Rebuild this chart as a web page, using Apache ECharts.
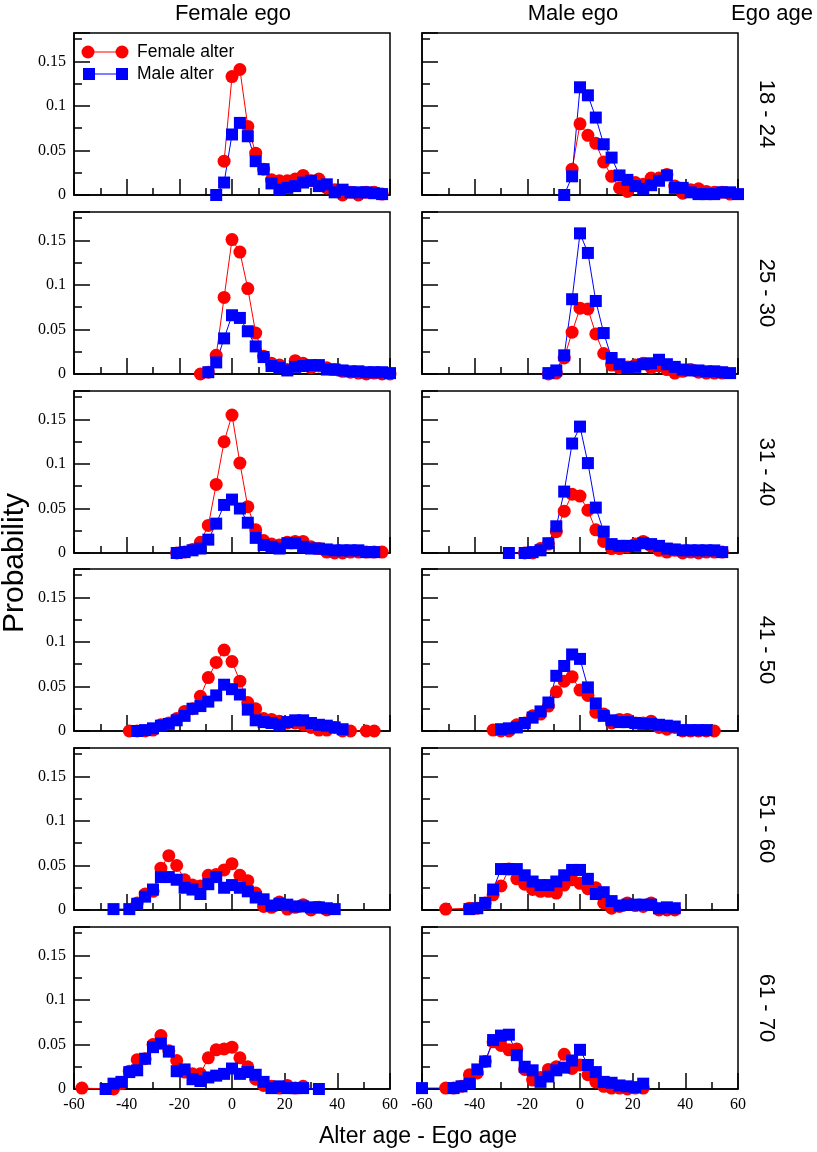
<!DOCTYPE html>
<html><head><meta charset="utf-8">
<script src="https://cdn.jsdelivr.net/npm/echarts@6/dist/echarts.min.js"></script>
<style>html,body{margin:0;padding:0;background:#fff}#c{width:817px;height:1152px}</style>
</head><body><div id="c"></div>
<script>
// ---------- texts ----------
const columnTitles = ['Female ego', 'Male ego'];
const ageGroups = ['18 - 24', '25 - 30', '31 - 40', '41 - 50', '51 - 60', '61 - 70'];
const legendNames = ['Female alter', 'Male alter'];
const yTickLabels = ['0', '0.05', '0.1', '0.15'];
const xTickLabels = ['-60', '-40', '-20', '0', '20', '40', '60'];

// ---------- data: [alter age - ego age, probability] ----------
// Female ego
const fe18_femaleAlter = [[-3,.038],[0,.133],[3,.141],[6,.077],[9,.047],[12,.029],[15,.017],[18,.016],[21,.016],[24,.018],[27,.022],[30,.016],[33,.018],[36,.008],[39,.006],[42,0],[45,.003],[48,0],[51,.003],[54,.003],[57,.001]];
const fe18_maleAlter = [[-6,0],[-3,.014],[0,.068],[3,.081],[6,.066],[9,.038],[12,.029],[15,.013],[18,.006],[21,.008],[24,.010],[27,.014],[30,.016],[33,.010],[36,.012],[39,.003],[42,.006],[45,.003],[48,.003],[51,.003],[54,.002],[57,.001]];
const fe25_femaleAlter = [[-12,0],[-9,.002],[-6,.021],[-3,.086],[0,.151],[3,.137],[6,.096],[9,.046],[12,.020],[15,.012],[18,.010],[21,.005],[24,.015],[27,.012],[30,.007],[33,.009],[36,.007],[39,.005],[42,.003],[45,.002],[48,.001],[51,0],[54,.001],[57,0],[60,0]];
const fe25_maleAlter = [[-9,.002],[-6,.013],[-3,.040],[0,.066],[3,.063],[6,.048],[9,.031],[12,.019],[15,.009],[18,.007],[21,.004],[24,.008],[27,.009],[30,.010],[33,.010],[36,.005],[39,.005],[42,.004],[45,.003],[48,.003],[51,.002],[54,.002],[57,.002],[60,.001]];
const fe31_femaleAlter = [[-21,0],[-18,.001],[-15,.004],[-12,.012],[-9,.031],[-6,.077],[-3,.125],[0,.155],[3,.101],[6,.052],[9,.026],[12,.014],[15,.010],[18,.009],[21,.012],[24,.013],[27,.013],[30,.007],[33,.005],[36,.001],[39,0],[42,0],[45,.001],[48,.001],[51,.001],[54,.001],[57,.001]];
const fe31_maleAlter = [[-21,0],[-18,.001],[-15,.003],[-12,.005],[-9,.015],[-6,.033],[-3,.054],[0,.060],[3,.050],[6,.034],[9,.017],[12,.009],[15,.007],[18,.005],[21,.011],[24,.011],[27,.007],[30,.005],[33,.005],[36,.004],[39,.003],[42,.003],[45,.003],[48,.003],[51,.001],[54,.001]];
const fe41_femaleAlter = [[-39,0],[-36,0],[-33,0],[-30,.001],[-27,.007],[-24,.009],[-21,.014],[-18,.022],[-15,.025],[-12,.039],[-9,.060],[-6,.077],[-3,.091],[0,.078],[3,.056],[6,.032],[9,.025],[12,.014],[15,.013],[18,.011],[21,.009],[24,.009],[27,.007],[30,.004],[33,.001],[36,.001],[39,.004],[42,0],[45,0],[51,0],[54,0]];
const fe41_maleAlter = [[-36,0],[-33,.001],[-30,.003],[-27,.006],[-24,.008],[-21,.012],[-18,.017],[-15,.025],[-12,.028],[-9,.033],[-6,.040],[-3,.052],[0,.047],[3,.041],[6,.024],[9,.012],[12,.010],[15,.009],[18,.007],[21,.010],[24,.012],[27,.012],[30,.009],[33,.007],[36,.006],[39,.004],[42,.002]];
const fe51_femaleAlter = [[-36,.008],[-33,.018],[-30,.021],[-27,.047],[-24,.061],[-21,.050],[-18,.034],[-15,.028],[-12,.027],[-9,.039],[-6,.040],[-3,.045],[0,.052],[3,.039],[6,.033],[9,.019],[12,.004],[15,.003],[18,.009],[21,.001],[24,.003],[27,.006],[30,0],[33,.003],[36,0]];
const fe51_maleAlter = [[-45,.001],[-39,.001],[-36,.007],[-33,.015],[-30,.023],[-27,.037],[-24,.037],[-21,.034],[-18,.025],[-15,.023],[-12,.018],[-9,.029],[-6,.037],[-3,.025],[0,.028],[3,.025],[6,.021],[9,.014],[12,.012],[15,.005],[18,.007],[21,.006],[24,.004],[27,.004],[30,.003],[33,.003],[36,.002],[39,.001]];
const fe61_femaleAlter = [[-57,.001],[-45,0],[-42,.006],[-39,.020],[-36,.033],[-33,.034],[-30,.050],[-27,.060],[-24,.043],[-21,.032],[-18,.019],[-15,.017],[-12,.017],[-9,.035],[-6,.044],[-3,.045],[0,.047],[3,.035],[6,.025],[9,.011],[12,.004],[15,.003],[18,.001],[21,.004],[24,.001],[27,.003]];
const fe61_maleAlter = [[-48,0],[-45,.006],[-42,.008],[-39,.019],[-36,.021],[-33,.034],[-30,.047],[-27,.051],[-24,.042],[-21,.020],[-18,.022],[-15,.011],[-12,.009],[-9,.013],[-6,.015],[-3,.017],[0,.023],[3,.017],[6,.019],[9,.016],[12,.008],[15,.001],[18,.003],[21,.001],[24,.001],[27,.001],[33,0]];
// Male ego
const me18_femaleAlter = [[-3,.029],[0,.080],[3,.067],[6,.058],[9,.037],[12,.021],[15,.008],[18,.004],[21,.014],[24,.012],[27,.019],[30,.019],[33,.023],[36,.010],[39,.002],[42,.006],[45,.007],[48,.004],[51,.003],[54,.003],[57,.001]];
const me18_maleAlter = [[-6,0],[-3,.021],[0,.121],[3,.112],[6,.087],[9,.057],[12,.042],[15,.022],[18,.017],[21,.010],[24,.007],[27,.011],[30,.016],[33,.022],[36,.008],[39,.008],[42,.003],[45,.001],[48,.001],[51,.001],[54,.003],[57,.003],[60,.001]];
const me25_femaleAlter = [[-12,0],[-9,.001],[-6,.018],[-3,.047],[0,.074],[3,.073],[6,.045],[9,.023],[12,.010],[15,.007],[18,.008],[21,.010],[24,.012],[27,.007],[30,.009],[33,.005],[36,.001],[39,.003],[42,.005],[45,.002],[48,.001],[51,.001],[54,.001]];
const me25_maleAlter = [[-12,.001],[-9,.004],[-6,.021],[-3,.084],[0,.158],[3,.136],[6,.082],[9,.046],[12,.018],[15,.011],[18,.007],[21,.008],[24,.011],[27,.012],[30,.016],[33,.011],[36,.008],[39,.005],[42,.004],[45,.004],[48,.003],[51,.003],[54,.002],[57,.001]];
const me31_femaleAlter = [[-21,0],[-18,0],[-15,.005],[-12,.010],[-9,.024],[-6,.047],[-3,.066],[0,.064],[3,.048],[6,.026],[9,.013],[12,.005],[15,.005],[18,.007],[21,.010],[24,.013],[27,.008],[30,.003],[33,.001],[36,.003],[39,0],[42,.001],[45,0],[48,.001],[51,.001],[54,.001]];
const me31_maleAlter = [[-27,0],[-21,0],[-18,.001],[-15,.003],[-12,.011],[-9,.030],[-6,.069],[-3,.123],[0,.142],[3,.101],[6,.051],[9,.024],[12,.010],[15,.008],[18,.008],[21,.008],[24,.011],[27,.010],[30,.008],[33,.005],[36,.004],[39,.003],[42,.003],[45,.003],[48,.003],[51,.003],[54,.001]];
const me41_femaleAlter = [[-33,.001],[-30,0],[-27,0],[-24,.007],[-21,.009],[-18,.017],[-15,.019],[-12,.028],[-9,.044],[-6,.056],[-3,.061],[0,.046],[3,.040],[6,.021],[9,.019],[12,.009],[15,.013],[18,.013],[21,.009],[24,.009],[27,.011],[30,.004],[33,.002],[36,.004],[39,0],[42,0],[45,0],[48,0],[51,0]];
const me41_maleAlter = [[-30,.002],[-27,.003],[-24,.004],[-21,.009],[-18,.015],[-15,.022],[-12,.032],[-9,.062],[-6,.073],[-3,.086],[0,.081],[3,.049],[6,.031],[9,.017],[12,.012],[15,.010],[18,.010],[21,.009],[24,.008],[27,.008],[30,.007],[33,.006],[36,.005],[39,.001],[42,.001],[45,.001],[48,.001]];
const me51_femaleAlter = [[-51,.001],[-42,.002],[-39,.002],[-36,.008],[-33,.017],[-30,.027],[-27,.046],[-24,.035],[-21,.029],[-18,.023],[-15,.021],[-12,.021],[-9,.019],[-6,.028],[-3,.034],[0,.030],[3,.024],[6,.025],[9,.008],[12,.002],[15,.004],[18,.008],[21,.005],[24,.004],[27,.008],[30,0],[33,0],[36,0]];
const me51_maleAlter = [[-42,.001],[-39,.002],[-36,.008],[-33,.023],[-30,.046],[-27,.046],[-24,.046],[-21,.039],[-18,.032],[-15,.028],[-12,.028],[-9,.032],[-6,.039],[-3,.045],[0,.045],[3,.035],[6,.018],[9,.020],[12,.010],[15,.005],[18,.006],[21,.006],[24,.006],[27,.006],[30,.002],[33,.003],[36,.002]];
const me61_femaleAlter = [[-51,.001],[-48,.001],[-45,.003],[-42,.016],[-39,.018],[-36,.031],[-33,.053],[-30,.049],[-27,.044],[-24,.045],[-21,.022],[-18,.010],[-15,.013],[-12,.022],[-9,.025],[-6,.039],[-3,.023],[0,.027],[3,.016],[6,.008],[9,.003],[12,.001],[15,.001],[18,0],[21,.001],[24,.001]];
const me61_maleAlter = [[-60,.001],[-48,.001],[-45,.003],[-42,.006],[-39,.022],[-36,.031],[-33,.055],[-30,.060],[-27,.061],[-24,.038],[-21,.025],[-18,.021],[-15,.008],[-12,.014],[-9,.021],[-6,.024],[-3,.032],[0,.044],[3,.027],[6,.019],[9,.008],[12,.007],[15,.004],[18,.003],[21,.002],[24,.006]];

// panels[row][col] = [femaleAlter, maleAlter]
const panels = [
  [[fe18_femaleAlter, fe18_maleAlter], [me18_femaleAlter, me18_maleAlter]],
  [[fe25_femaleAlter, fe25_maleAlter], [me25_femaleAlter, me25_maleAlter]],
  [[fe31_femaleAlter, fe31_maleAlter], [me31_femaleAlter, me31_maleAlter]],
  [[fe41_femaleAlter, fe41_maleAlter], [me41_femaleAlter, me41_maleAlter]],
  [[fe51_femaleAlter, fe51_maleAlter], [me51_femaleAlter, me51_maleAlter]],
  [[fe61_femaleAlter, fe61_maleAlter], [me61_femaleAlter, me61_maleAlter]]
];

// ---------- layout ----------
const colLeft = [74, 422];
const panelW = 316;
const rowTop = [33, 212, 391, 569, 748, 927];
const panelH = 162;
const Y_MAX = 0.182;
const RED = '#ff0000', BLUE = '#0000ff', INK = '#000';
const SANS = 'Liberation Sans, Arial, sans-serif';
const SERIF = 'Liberation Serif, Times New Roman, serif';
const axisLs = { color: INK, width: 1.5 };

const grid = [], xAxis = [], yAxis = [], series = [];
let gi = 0;
for (let r = 0; r < 6; r++) {
  for (let c = 0; c < 2; c++) {
    grid.push({ left: colLeft[c], top: rowTop[r], width: panelW, height: panelH,
      show: true, borderColor: INK, borderWidth: 1.5, backgroundColor: 'transparent' });
    xAxis.push({ type: 'value', gridIndex: gi, position: 'bottom', min: -60, max: 60, interval: 20,
      axisLine: { show: true, onZero: false, lineStyle: axisLs },
      axisTick: { show: true, inside: true, length: 16, lineStyle: axisLs },
      minorTick: { show: true, splitNumber: 2, length: 7, lineStyle: axisLs },
      splitLine: { show: false }, minorSplitLine: { show: false },
      axisLabel: { show: r === 5, color: INK, fontFamily: SERIF, fontSize: 16, margin: 8,
        showMinLabel: true, showMaxLabel: true,
        formatter: v => { const s = String(Math.round(v)); return xTickLabels.includes(s) ? s : ''; } }
    });
    // major ticks + labels
    yAxis.push({ type: 'value', gridIndex: gi, position: 'left', min: 0, max: Y_MAX, interval: 0.05,
      axisLine: { show: true, onZero: false, lineStyle: axisLs },
      axisTick: { show: true, inside: true, length: 16, lineStyle: axisLs },
      splitLine: { show: false },
      axisLabel: { show: c === 0, color: INK, fontFamily: SERIF, fontSize: 16, margin: 8,
        formatter: v => { const s = String(Math.round(v * 1000) / 1000); return yTickLabels.includes(s) ? s : ''; } }
    });
    // minor ticks
    yAxis.push({ type: 'value', gridIndex: gi, position: 'left', min: 0, max: Y_MAX, interval: 0.025,
      axisLine: { show: false, onZero: false }, axisLabel: { show: false }, splitLine: { show: false },
      axisTick: { show: true, inside: true, length: 8, lineStyle: axisLs }
    });
    const [fa, ma] = panels[r][c];
    series.push({ type: 'line', name: legendNames[0], xAxisIndex: gi, yAxisIndex: 2 * gi, data: fa,
      symbol: 'circle', symbolSize: 13, clip: false, itemStyle: { color: RED },
      lineStyle: { color: RED, width: 1 }, emphasis: { disabled: true } });
    series.push({ type: 'line', name: legendNames[1], xAxisIndex: gi, yAxisIndex: 2 * gi, data: ma,
      symbol: 'rect', symbolSize: 12, clip: false, itemStyle: { color: BLUE },
      lineStyle: { color: BLUE, width: 1 }, emphasis: { disabled: true } });
    gi++;
  }
}

const graphic = [];
const txt = (text, x, y, size, rot, align) => ({ type: 'text', x, y, rotation: rot || 0, silent: true,
  style: { text, fill: INK, font: size + 'px ' + SANS, align: align || 'center', verticalAlign: 'middle' } });
graphic.push(txt(columnTitles[0], 233, 14, 22));
graphic.push(txt(columnTitles[1], 573, 14, 22));
graphic.push(txt('Ego age', 772, 14, 22));
ageGroups.forEach((g, r) => graphic.push(txt(g, 766, rowTop[r] + panelH / 2, 22, -Math.PI / 2)));
graphic.push(txt('Probability', 15, 563, 30, Math.PI / 2));
graphic.push(txt('Alter age - Ego age', 418, 1137, 23));
// legend
graphic.push({ type: 'line', shape: { x1: 88, y1: 52, x2: 122, y2: 52 }, style: { stroke: RED, lineWidth: 1 } });
graphic.push({ type: 'circle', shape: { cx: 88, cy: 52, r: 6.5 }, style: { fill: RED } });
graphic.push({ type: 'circle', shape: { cx: 122, cy: 52, r: 6.5 }, style: { fill: RED } });
graphic.push(txt(legendNames[0], 137, 52, 17.5, 0, 'left'));
graphic.push({ type: 'line', shape: { x1: 89, y1: 74, x2: 122, y2: 74 }, style: { stroke: BLUE, lineWidth: 1 } });
graphic.push({ type: 'rect', shape: { x: 83, y: 68, width: 12, height: 12 }, style: { fill: BLUE } });
graphic.push({ type: 'rect', shape: { x: 116, y: 68, width: 12, height: 12 }, style: { fill: BLUE } });
graphic.push(txt(legendNames[1], 137, 74, 17.5, 0, 'left'));

const chart = echarts.init(document.getElementById('c'), null, { renderer: 'canvas' });
chart.setOption({ animation: false, backgroundColor: '#fff', grid, xAxis, yAxis, series, graphic });
</script></body></html>
